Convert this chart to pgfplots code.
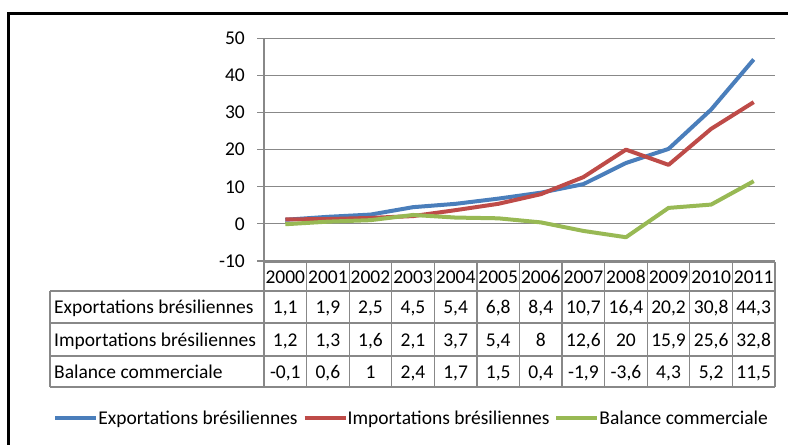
\documentclass[border=0pt]{standalone}
\usepackage{pgfplots}
\pgfplotsset{compat=1.18}
\usepackage{pgfplotstable}
\usepackage{fontspec}
\setmainfont{Carlito}
\definecolor{cblue}{HTML}{4A7EBB}
\definecolor{cred}{HTML}{BE4B48}
\definecolor{cgreen}{HTML}{98B954}
\definecolor{gridgray}{HTML}{888888}
\newcommand\cf{\fontsize{19.5bp}{22bp}\selectfont}

\pgfplotstableread{
idx year exp imp bal
0 2000 1.1 1.2 -0.1
1 2001 1.9 1.3 0.6
2 2002 2.5 1.6 1
3 2003 4.5 2.1 2.4
4 2004 5.4 3.7 1.7
5 2005 6.8 5.4 1.5
6 2006 8.4 8 0.4
7 2007 10.7 12.6 -1.9
8 2008 16.4 20 -3.6
9 2009 20.2 15.9 4.3
10 2010 30.8 25.6 5.2
11 2011 44.3 32.8 11.5
}\data

\begin{document}
\begin{tikzpicture}[x=1bp,y=1bp]
\useasboundingbox (0,0) rectangle (788,445);
\draw[line width=2.5bp] (8.5,0) -- (8.5,431.7) -- (788,431.7);
\begin{axis}[
  at={(264bp,184bp)}, anchor=south west,
  width=511bp, height=222.7bp, scale only axis,
  xmin=-0.5, xmax=11.5, ymin=-10, ymax=50,
  ytick={-10,0,10,20,30,40,50}, xtick=\empty,
  axis y line*=left, axis x line=none,
  axis line style={gridgray, line width=1.2bp},
  tick align=outside, major tick length=7bp,
  tick style={gridgray, line width=1.2bp},
  ymajorgrids, grid style={gridgray, line width=1.2bp},
  /pgf/number format/assume math mode=true,
  yticklabel style={font=\cf, anchor=east, inner sep=0pt, xshift=-12bp},
  legend style={at={(-0.4125,-0.705)}, anchor=west, draw=none, fill=none,
    inner sep=0pt, font=\cf, legend cell align=left,
    nodes={inner xsep=0bp, inner ysep=2bp},
    /tikz/every even column/.append style={column sep=5bp}},
  legend columns=3,
  legend image code/.code={\draw[#1, line width=4bp] (0bp,0bp) -- (41bp,0bp);},
  every axis plot/.append style={line width=4bp, line join=round},
  clip=false,
]
\addplot[cblue] table[x=idx, y=exp] {\data};
\addlegendentry{Exportations brésiliennes}
\addplot[cred] table[x=idx, y=imp] {\data};
\addlegendentry{Importations brésiliennes}
\addplot[cgreen] table[x=idx, y=bal] {\data};
\addlegendentry{Balance commerciale}
\end{axis}
% data table
\begin{scope}[gridgray, line width=1.2bp]
\draw (264,182.7) -- (775,182.7);
\foreach \yy in {154,122,89,58} \draw (50,\yy) -- (775,\yy);
\draw (50,154) -- (50,58);
\foreach \k in {0,...,12} \draw ({264+42.583*\k},182.7) -- ({264+42.583*\k},58);
\end{scope}
\foreach \t [count=\i from 0] in {2000,2001,2002,2003,2004,2005,2006,2007,2008,2009,2010,2011}
  \node[font=\cf, anchor=mid, inner sep=0pt] at ({285.3+42.583*\i},164) {\t};
\node[font=\cf, anchor=mid west, inner sep=0pt] at (54,133.5) {Exportations brésiliennes};
\node[font=\cf, anchor=mid west, inner sep=0pt] at (54,101) {Importations brésiliennes};
\node[font=\cf, anchor=mid west, inner sep=0pt] at (54,68.5) {Balance commerciale};
\foreach \t [count=\i from 0] in {{1,1},{1,9},{2,5},{4,5},{5,4},{6,8},{8,4},{10,7},{16,4},{20,2},{30,8},{44,3}}
  \node[font=\cf, anchor=mid, inner sep=0pt] at ({285.3+42.583*\i},133.5) {\t};
\foreach \t [count=\i from 0] in {{1,2},{1,3},{1,6},{2,1},{3,7},{5,4},8,{12,6},20,{15,9},{25,6},{32,8}}
  \node[font=\cf, anchor=mid, inner sep=0pt] at ({285.3+42.583*\i},101) {\t};
\foreach \t [count=\i from 0] in {{-0,1},{0,6},1,{2,4},{1,7},{1,5},{0,4},{-1,9},{-3,6},{4,3},{5,2},{11,5}}
  \node[font=\cf, anchor=mid, inner sep=0pt] at ({285.3+42.583*\i},68.5) {\t};
\end{tikzpicture}
\end{document}
